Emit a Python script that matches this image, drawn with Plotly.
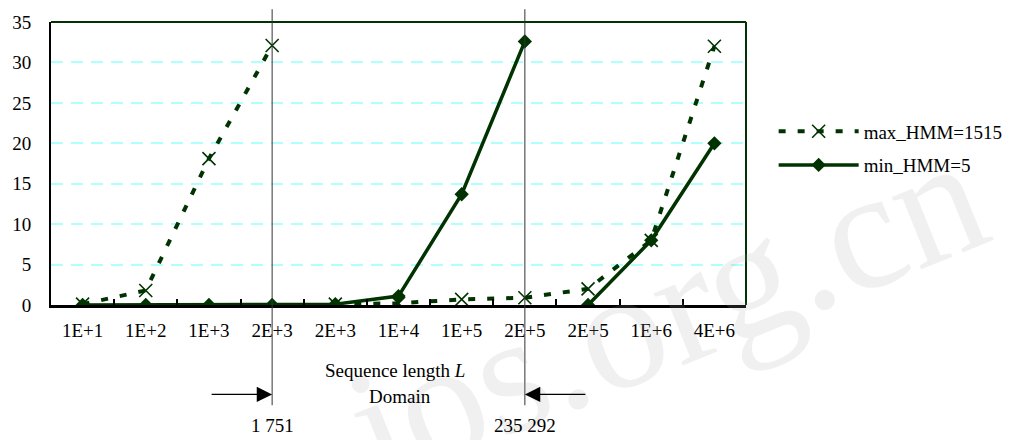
import plotly.graph_objects as go

# Sequence-length categories (two points share each of the 2E+3 and 2E+5 labels)
tick_labels = ["1E+1", "1E+2", "1E+3", "2E+3", "2E+3", "1E+4",
               "1E+5", "2E+5", "2E+5", "1E+6", "4E+6"]
positions = list(range(len(tick_labels)))

max_hmm = [0.1, 1.8, 18.1, 32.1, 0.1, 0.2, 0.7, 0.9, 2.0, 8.0, 32.0]
min_hmm = [0.0, 0.0, 0.0, 0.0, 0.1, 1.1, 13.7, 32.6, 0.0, 8.0, 20.0]

# connected runs of each curve: [start, end] category indices
max_runs = [(0, 3), (4, 10)]
min_runs = [(0, 7), (8, 10)]

domain_bounds = [3, 7]           # category index of each domain boundary
domain_values = ["1 751", "235 292"]

GREEN = "#003300"
FONT = "Liberation Serif"

fig = go.Figure()

for k, (a, b) in enumerate(max_runs):
    fig.add_trace(go.Scatter(
        x=positions[a:b + 1], y=max_hmm[a:b + 1], name="max_HMM=1515",
        mode="lines+markers",
        line=dict(color=GREEN, width=4, dash="7px,12px"),
        marker=dict(symbol="x-thin-open", size=13, color=GREEN,
                    line=dict(color=GREEN, width=1.6)),
        legendgroup="a", showlegend=(k == 0),
    ))
for k, (a, b) in enumerate(min_runs):
    fig.add_trace(go.Scatter(
        x=positions[a:b + 1], y=min_hmm[a:b + 1], name="min_HMM=5",
        mode="lines+markers",
        line=dict(color=GREEN, width=3.5),
        marker=dict(symbol="diamond", size=11, color=GREEN),
        legendgroup="b", showlegend=(k == 0),
    ))

L, T, PW, PH = 42, 17, 704, 288

def py(pix):
    """Paper y coordinate for a pixel row of the page."""
    return (T + PH - pix) / PH

shapes = [
    # dark green top and right frame
    dict(type="line", xref="paper", yref="paper", x0=0, x1=1, y0=1, y1=1,
         line=dict(color=GREEN, width=2)),
    dict(type="line", xref="paper", yref="paper", x0=1, x1=1, y0=0, y1=1,
         line=dict(color=GREEN, width=2)),
]
for b in domain_bounds:
    shapes.append(dict(type="line", xref="x", yref="paper", x0=b, x1=b,
                       y0=py(407), y1=py(4), layer="above",
                       line=dict(color="#333333", width=1)))

def label(text, x, ypix, **font):
    return dict(text=text, xref="x", yref="paper", x=x, y=py(ypix),
                xanchor="center", yanchor="middle", showarrow=False,
                font=dict(family=FONT, size=19, color="black", **font))

annotations = [
    dict(text="jos.org.cn", xref="paper", yref="paper",
         x=(662 - L) / PW, y=py(312), xanchor="center", yanchor="middle",
         showarrow=False, textangle=-22,
         font=dict(family=FONT, size=170, color="rgba(160,160,160,0.16)")),
    label("Sequence length <i>L</i>", 4.95, 372),
    label("Domain", 5.03, 398),
]
for b, text, side in zip(domain_bounds, domain_values, [-1, 1]):
    annotations.append(dict(
        text="", xref="x", yref="paper", x=b, y=py(396),
        ax=side * 62, ay=0, axref="pixel", ayref="pixel",
        showarrow=True, arrowhead=2, arrowsize=2.2, arrowwidth=1.4,
        arrowcolor="black", standoff=0))
    annotations.append(label(text, b, 428))

fig.update_layout(
    width=1020, height=440,
    margin=dict(l=L, r=1020 - L - PW, t=T, b=440 - T - PH),
    paper_bgcolor="white", plot_bgcolor="white",
    font=dict(family=FONT, size=19, color="black"),
    showlegend=True,
    legend=dict(x=(774 - L) / PW, y=py(109), xanchor="left", yanchor="top",
                font=dict(family=FONT, size=19, color="black"),
                itemwidth=80, tracegroupgap=6, bgcolor="rgba(0,0,0,0)"),
    shapes=shapes,
    annotations=annotations,
    xaxis=dict(
        range=[-0.5, len(tick_labels) - 0.5],
        tickmode="array", tickvals=positions, ticktext=tick_labels,
        ticks="", showgrid=False, zeroline=False,
        showline=True, linecolor="black", linewidth=2.5,
        ticklabelstandoff=6,
        minor=dict(tickmode="array",
                   tickvals=[p + 0.5 for p in positions[:-1]],
                   ticks="inside", ticklen=6, tickwidth=1.5,
                   tickcolor="black", showgrid=False),
        tickfont=dict(family=FONT, size=19, color="black"),
    ),
    yaxis=dict(
        range=[0, 35], tickmode="array", tickvals=list(range(0, 36, 5)),
        showgrid=True, gridcolor="#b0ffff", gridwidth=1.5, griddash="12px,8px",
        zeroline=False, showline=True, linecolor="black", linewidth=2,
        ticks="", ticklabelstandoff=14,
        tickfont=dict(family=FONT, size=19, color="black"),
    ),
)

fig.write_html("out.html")
